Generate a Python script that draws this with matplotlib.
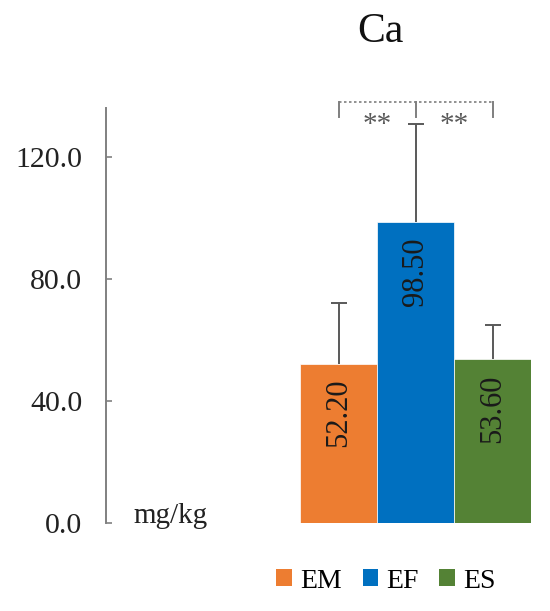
import matplotlib
matplotlib.use("Agg")
import matplotlib.pyplot as plt
from matplotlib.patches import Patch

plt.rcParams['font.family'] = ['Liberation Serif', 'DejaVu Serif']

groups = ["EM", "EF", "ES"]
means = [52.20, 98.50, 53.60]
err_up = [19.9, 32.3, 11.3]
colors = ["#ED7D31", "#0070C0", "#548235"]
yticks = [0, 40, 80, 120]

fig = plt.figure(figsize=(5.5, 6.11), dpi=100)
ax = fig.add_axes([106/550, 88/611, 425/550, 415/611])

x = list(range(len(groups)))
ax.bar(x, means, width=1.0, color=colors, edgecolor="white", linewidth=0.5, zorder=2)
eb = ax.errorbar(x, means, yerr=[[0]*3, err_up], fmt="none", ecolor="#595959",
                 elinewidth=1.4, capsize=5.5, capthick=1.4, zorder=3)
eb[1][0].set_visible(False)   # hide the lower caps, plus-only bars

# value labels, rotated, near the top of each bar
for xi, v in zip(x, means):
    ax.annotate(f"{v:.2f}", (xi, v), xytext=(0, -11), textcoords="offset points",
                rotation=90, ha="center", va="top", fontsize=22, color="#1a1a1a", zorder=4)

ax.set_xlim(-3.02, 2.5)
ax.set_ylim(0, 136)
ax.set_yticks(yticks)
ax.set_yticklabels([f"{t:.1f}" for t in yticks])
ax.tick_params(axis="y", direction="in", length=4, width=1.2, color="#808080",
               labelsize=21.5, pad=17, labelcolor="#222222")
ax.set_xticks([])
for s in ["top", "right", "bottom"]:
    ax.spines[s].set_visible(False)
ax.spines["left"].set_color("#808080")
ax.spines["left"].set_linewidth(1.4)

ax.text(0.064, 0.0, "mg/kg", transform=ax.transAxes, fontsize=21,
        ha="left", va="baseline", color="#222222")

# significance bracket
top_y, end_y = 138, 133
ax.plot([0, 2], [top_y, top_y], ls=(0, (1.5, 1.5)), color="#7f7f7f", lw=1.2, clip_on=False)
for xb in [0, 1, 2]:
    ax.plot([xb, xb], [top_y, end_y], color="#7f7f7f", lw=1.4, clip_on=False)
for xs in [0.5, 1.5]:
    ax.text(xs, 130.5, "**", ha="center", va="center", fontsize=21, color="#595959")

fig.text(380/550, 1 - 32/611, "Ca", ha="center", va="center", fontsize=30, color="#111111")

handles = [Patch(facecolor=c) for c in colors]
fig.legend(handles, groups, loc="center", bbox_to_anchor=(386/550, 1 - 581/611),
           ncol=3, frameon=False, fontsize=20, handlelength=0.55, handleheight=0.55,
           handletextpad=0.3, columnspacing=0.75)

fig.savefig("out.png", dpi=100)
